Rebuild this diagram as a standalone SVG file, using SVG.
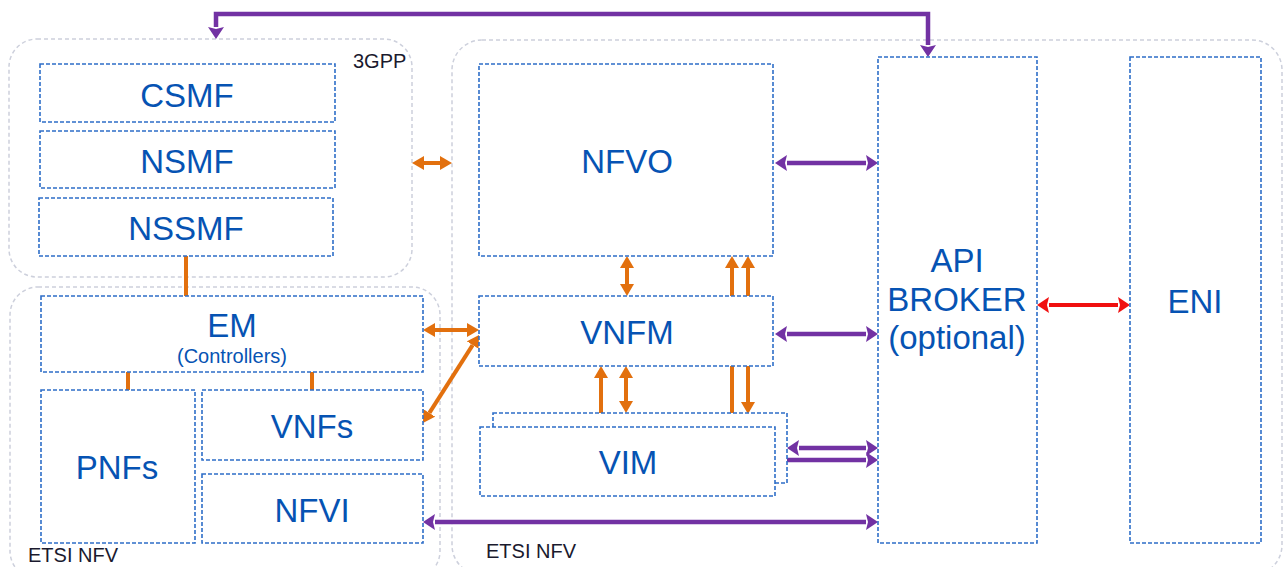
<svg xmlns="http://www.w3.org/2000/svg" width="1286" height="567" viewBox="0 0 1286 567">
<style>
.cont{fill:none;stroke:#cdd0dc;stroke-width:1.5;stroke-dasharray:4,3}
.box{fill:#fff;stroke:#2e6ec8;stroke-width:1.6;stroke-dasharray:4,2}
.lbl{font-family:"Liberation Sans",Arial,sans-serif;font-size:33px;fill:#0653b3;text-anchor:middle}
.sub{font-family:"Liberation Sans",Arial,sans-serif;font-size:20px;fill:#0653b3;text-anchor:middle}
.ctl{font-family:"Liberation Sans",Arial,sans-serif;font-size:20px;fill:#1a1a2e}
.or{fill:none;stroke:#e2700e;stroke-width:4}
.pu{fill:none;stroke:#7232a3;stroke-width:4.5}
.rd{fill:none;stroke:#f01010;stroke-width:4}
</style>
<defs>
<marker id="aO" markerUnits="userSpaceOnUse" viewBox="0 0 12 14" refX="0" refY="7" markerWidth="12" markerHeight="14" orient="auto-start-reverse"><path d="M0,0 L12,7 L0,14 z" fill="#e2700e"/></marker>
<marker id="aP" markerUnits="userSpaceOnUse" viewBox="0 0 12 16" refX="0" refY="8" markerWidth="12" markerHeight="16" orient="auto-start-reverse"><path d="M0,0 L12,8 L0,16 L2,8 z" fill="#7232a3"/></marker>
<marker id="aR" markerUnits="userSpaceOnUse" viewBox="0 0 12 16" refX="0" refY="8" markerWidth="12" markerHeight="16" orient="auto-start-reverse"><path d="M0,0 L12,8 L0,16 L2,8 z" fill="#f01010"/></marker>
</defs>
<rect width="1286" height="567" fill="#fff"/>

<g id="containers">
<rect id="c3gpp" class="cont" x="9" y="39" width="403" height="238" rx="28"/>
<text class="ctl" x="353" y="68">3GPP</text>
<rect id="cetsi-left" class="cont" x="10" y="287" width="430" height="292" rx="28"/>
<text class="ctl" x="28" y="562">ETSI NFV</text>
<rect id="cetsi-right" class="cont" x="452" y="40" width="830" height="535" rx="30"/>
<text class="ctl" x="486" y="558">ETSI NFV</text>
</g>

<g id="connectors">
<path class="pu" d="M216,27 V14 H928 V45" marker-start="url(#aP)" marker-end="url(#aP)"/>
<path class="or" d="M424,163 H440" marker-start="url(#aO)" marker-end="url(#aO)"/>
<path class="or" d="M186,256 V296"/>
<path class="or" d="M128,372 V390"/>
<path class="or" d="M312,372 V390"/>
<path class="or" d="M435,330 H467" marker-start="url(#aO)" marker-end="url(#aO)"/>
<path class="or" d="M429.4,412.9 L472.6,345.1" marker-start="url(#aO)" marker-end="url(#aO)"/>
<path class="or" d="M627,268 V284" marker-start="url(#aO)" marker-end="url(#aO)"/>
<path class="or" d="M732,296 V268" marker-end="url(#aO)"/>
<path class="or" d="M748,296 V268" marker-end="url(#aO)"/>
<path class="or" d="M601,378 V415" marker-start="url(#aO)" marker-end="url(#aO)"/>
<path class="or" d="M626,378 V401" marker-start="url(#aO)" marker-end="url(#aO)"/>
<path class="or" d="M732,366 V415" marker-end="url(#aO)"/>
<path class="or" d="M748,366 V402" marker-end="url(#aO)"/>
<path class="pu" d="M787,163 H866" marker-start="url(#aP)" marker-end="url(#aP)"/>
<path class="pu" d="M787,334 H866" marker-start="url(#aP)" marker-end="url(#aP)"/>
<path class="pu" d="M799,448 H866" marker-start="url(#aP)" marker-end="url(#aP)"/>
<path class="pu" d="M787,460 H866" marker-start="url(#aP)" marker-end="url(#aP)"/>
<path class="pu" d="M435,522 H866" marker-start="url(#aP)" marker-end="url(#aP)"/>
<path class="rd" d="M1049,305 H1118" marker-start="url(#aR)" marker-end="url(#aR)"/>
</g>

<g id="csmf"><rect class="box" x="40" y="64" width="295" height="58"/><text class="lbl" x="187" y="107">CSMF</text></g>
<g id="nsmf"><rect class="box" x="40" y="131" width="295" height="57"/><text class="lbl" x="187" y="173">NSMF</text></g>
<g id="nssmf"><rect class="box" x="39" y="198" width="294" height="58"/><text class="lbl" x="186" y="240">NSSMF</text></g>

<g id="em"><rect class="box" x="41" y="296" width="382" height="76"/><text class="lbl" x="232" y="337">EM</text><text class="sub" x="232" y="363">(Controllers)</text></g>
<g id="pnfs"><rect class="box" x="41" y="390" width="154" height="153"/><text class="lbl" x="117" y="479">PNFs</text></g>
<g id="vnfs"><rect class="box" x="202" y="390" width="221" height="70"/><text class="lbl" x="312" y="438">VNFs</text></g>
<g id="nfvi"><rect class="box" x="202" y="474" width="221" height="69"/><text class="lbl" x="312" y="522">NFVI</text></g>

<g id="nfvo"><rect class="box" x="479" y="64" width="294" height="192"/><text class="lbl" x="627" y="173">NFVO</text></g>
<g id="vnfm"><rect class="box" x="479" y="296" width="294" height="70"/><text class="lbl" x="627" y="344">VNFM</text></g>
<g id="vim"><rect class="box" x="493" y="413" width="294" height="70"/><rect class="box" x="480" y="427" width="295" height="69"/><text class="lbl" x="628" y="474">VIM</text></g>

<g id="api-broker"><rect class="box" x="878" y="57" width="159" height="486"/><text class="lbl" x="957" y="272">API</text><text class="lbl" x="957" y="311">BROKER</text><text class="lbl" x="957" y="349">(optional)</text></g>
<g id="eni"><rect class="box" x="1130" y="57" width="131" height="486"/><text class="lbl" x="1195" y="313">ENI</text></g>
</svg>
